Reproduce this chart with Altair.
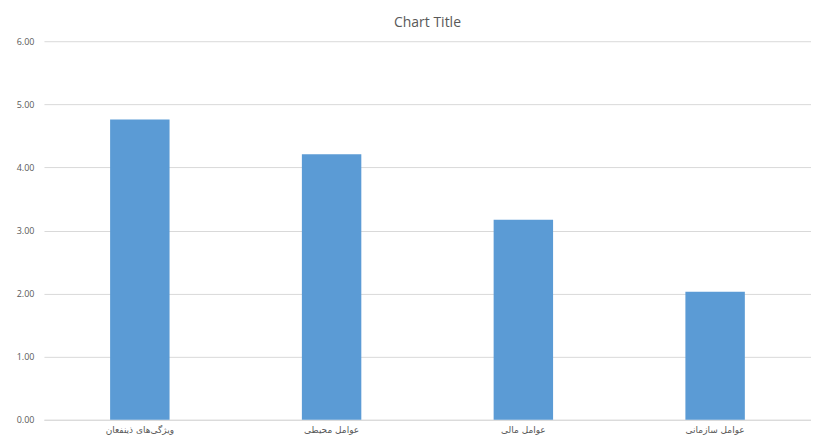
import altair as alt
import pandas as pd

categories = ["ویژگی‌های ذینفعان", "عوامل محیطی", "عوامل مالی", "عوامل سازمانی"]
values = [4.76, 4.21, 3.17, 2.03]

df = pd.DataFrame({"cat": categories, "val": values})

chart = alt.Chart(df).mark_bar(color="#5B9BD5").encode(
    x=alt.X("cat:N", sort=categories, title=None,
            scale=alt.Scale(paddingInner=0.69, paddingOuter=0.345),
            axis=alt.Axis(labelAngle=0, ticks=False, domainColor="#d9d9d9",
                          labelColor="#595959", labelFontSize=9, labelPadding=6,
                          labelFont="DejaVu Sans")),
    y=alt.Y("val:Q", title=None,
            scale=alt.Scale(domain=[0, 6]),
            axis=alt.Axis(values=[0, 1, 2, 3, 4, 5, 6], format=".2f", ticks=False,
                          domain=False, gridColor="#d9d9d9", labelColor="#595959",
                          labelFontSize=9, labelPadding=10, labelFont="Open Sans")),
).properties(
    width=768, height=379,
    title=alt.TitleParams("Chart Title", fontSize=14, fontWeight="normal",
                          color="#595959", font="Open Sans", offset=7),
    autosize=alt.AutoSizeParams(type="none"),
    padding={"left": 36, "top": 33, "right": 0, "bottom": 20},
).configure_view(stroke=None)

chart.save("out.html", embed_options={"renderer": "svg", "actions": False})
